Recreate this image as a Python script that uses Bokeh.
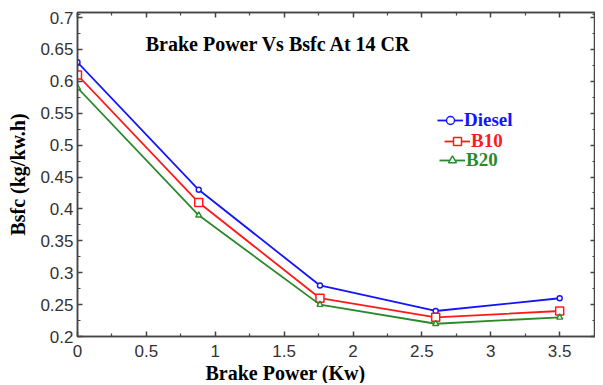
from bokeh.plotting import figure
from bokeh.models import (Range1d, LinearAxis, FixedTicker, CustomJSTickFormatter,
                          Legend, LegendItem, Label, Title)
from bokeh.embed import file_html
from bokeh.resources import INLINE

# ---- data ----
brake_power = [0, 0.88, 1.76, 2.6, 3.5]
diesel = [0.63, 0.43, 0.28, 0.24, 0.26]
b10 = [0.61, 0.41, 0.26, 0.23, 0.24]
b20 = [0.59, 0.39, 0.25, 0.22, 0.23]
x_ticks = [0, 0.5, 1, 1.5, 2, 2.5, 3, 3.5]
y_ticks = [0.2, 0.25, 0.3, 0.35, 0.4, 0.45, 0.5, 0.55, 0.6, 0.65, 0.7]
x_minor = [0.25, 0.75, 1.25, 1.75, 2.25, 2.75, 3.25, 3.75]
y_minor = [0.225, 0.275, 0.325, 0.375, 0.425, 0.475, 0.525, 0.575, 0.625, 0.675, 0.705]

BLUE = "#1414ff"
RED = "#ff1a1a"
GREEN = "#2a8a2a"
AXC = "#444444"

FW, FH = 518, 324

p = figure(frame_width=FW, frame_height=FH, output_backend="svg", toolbar_location=None,
           x_range=Range1d(0, 3.76), y_range=Range1d(0.2, 0.708),
           min_border_left=77, min_border_top=12, min_border_right=0, min_border_bottom=0,
           x_axis_label=None, y_axis_label="Bsfc (kg/kw.h)")
p.background_fill_color = "white"
p.border_fill_color = "white"
p.grid.visible = False
p.outline_line_color = AXC
p.outline_line_width = 1.5

fmt = CustomJSTickFormatter(code="""
let s = tick.toFixed(2);
s = s.replace(/0+$/, '').replace(/\\.$/, '');
return s;
""")
blank_fmt = CustomJSTickFormatter(code="return '';")

def style_axis(ax, labels=True):
    ax.axis_line_color = AXC
    ax.axis_line_width = 1.5
    ax.major_tick_in = 5
    ax.major_tick_out = 0
    ax.minor_tick_in = 3
    ax.minor_tick_out = 0
    ax.major_tick_line_color = AXC
    ax.minor_tick_line_color = AXC
    ax.major_tick_line_width = 1.5
    ax.minor_tick_line_width = 1.2
    if labels:
        ax.major_label_text_font = "Liberation Sans"
        ax.major_label_text_font_size = "17px"
        ax.major_label_text_color = "#333333"
    else:
        ax.major_label_text_font_size = "1px"
        ax.major_label_standoff = 0

xt = FixedTicker(ticks=x_ticks, minor_ticks=x_minor)
yt = FixedTicker(ticks=y_ticks, minor_ticks=y_minor)

xa = p.xaxis[0]
xa.ticker = xt
xa.formatter = fmt
style_axis(xa)
xa.major_label_standoff = 8

ya = p.yaxis[0]
ya.ticker = yt
ya.formatter = fmt
style_axis(ya)
ya.major_label_standoff = 4
ya.axis_label_text_font = "Liberation Serif"
ya.axis_label_text_font_style = "bold"
ya.axis_label_text_font_size = "20px"
ya.axis_label_text_color = "black"
ya.axis_label_standoff = 8

ra = LinearAxis(ticker=yt, formatter=blank_fmt)
style_axis(ra, labels=False)
p.add_layout(ra, "right")
ta = LinearAxis(ticker=xt, formatter=blank_fmt)
style_axis(ta, labels=False)
p.add_layout(ta, "above")

# x-axis title below
xt_title = Title(text="Brake Power (Kw)", align="left", offset=128,
                 text_font="Liberation Serif", text_font_style="bold",
                 text_font_size="20px", text_color="black", standoff=0)
p.add_layout(xt_title, "below")

# series
r_d_line = p.line(brake_power, diesel, line_color=BLUE, line_width=1.8)
r_d_mark = p.scatter(brake_power, diesel, marker="circle", size=5, line_color=BLUE,
                     fill_color="white", line_width=1.4)
r_b10_line = p.line(brake_power, b10, line_color=RED, line_width=1.8)
r_b10_mark = p.scatter(brake_power, b10, marker="square", size=8, line_color=RED,
                       fill_color="white", line_width=1.5)
r_b20_line = p.line(brake_power, b20, line_color=GREEN, line_width=1.8)
r_b20_mark = p.scatter(brake_power, b20, marker="triangle", size=6, line_color=GREEN,
                       fill_color="white", line_width=1.4)

# chart title inside plot
p.add_layout(Label(x=201, y=FH - 31, x_units="screen", y_units="screen",
                   text="Brake Power Vs Bsfc At 14 CR", text_font="Liberation Serif",
                   text_font_style="bold", text_font_size="20px", text_color="black",
                   text_align="center", text_baseline="middle"))

# legends, one per series so each label can take its series colour
legend_specs = [
    ("Diesel", [r_d_line, r_d_mark], BLUE, 360, 109),
    ("B10", [r_b10_line, r_b10_mark], RED, 367, 130),
    ("B20", [r_b20_line, r_b20_mark], GREEN, 362, 149),
]
for name, rends, col, lx, cy_top in legend_specs:
    lg = Legend(items=[LegendItem(label=name, renderers=rends)],
                location=(lx, FH - cy_top - 10),
                padding=0, margin=0, spacing=0,
                border_line_color=None, background_fill_alpha=0,
                glyph_width=26, glyph_height=20, label_height=20, label_standoff=1,
                label_text_font="Liberation Serif", label_text_font_style="bold",
                label_text_font_size="19px", label_text_color=col)
    p.add_layout(lg, "center")

open("out.html", "w").write(file_html(p, INLINE))
